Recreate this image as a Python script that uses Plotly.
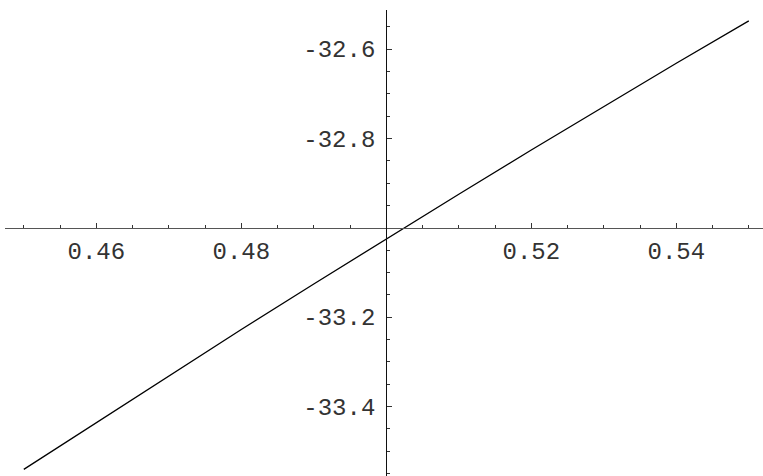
import plotly.graph_objects as go

# Sampled curve
x_vals = [0.45, 0.46, 0.47, 0.48, 0.49, 0.50, 0.51, 0.52, 0.53, 0.54, 0.55]
y_vals = [-33.541, -33.436, -33.331, -33.228, -33.126, -33.025,
          -32.925, -32.826, -32.729, -32.632, -32.537]

# Tick marks and labels
x_major = [0.46, 0.48, 0.52, 0.54]
x_major_text = ["0.46", "0.48", "0.52", "0.54"]
x_minor = [0.45, 0.455, 0.465, 0.47, 0.475, 0.485, 0.49, 0.495,
           0.505, 0.51, 0.515, 0.525, 0.53, 0.535, 0.545, 0.55]
y_major = [-32.6, -32.8, -33.2, -33.4]
y_major_text = ["-32.6", "-32.8", "-33.2", "-33.4"]
y_minor = [-32.55, -32.65, -32.7, -32.75, -32.85, -32.9, -32.95,
           -33.05, -33.1, -33.15, -33.25, -33.3, -33.35, -33.45, -33.5, -33.55]

# Axes origin
x_origin = 0.5
y_origin = -33.0

W, H = 763, 476
x_range = [0.44741, 0.55196]
y_range = [-33.5559, -32.51265]
x_dom = [5 / W, 1.0]
y_dom = [0.0, 466 / H]

# paper positions of the crossing axes
x_axis_pos = y_dom[0] + (y_origin - y_range[0]) / (y_range[1] - y_range[0]) * (y_dom[1] - y_dom[0])
y_axis_pos = x_dom[0] + (x_origin - x_range[0]) / (x_range[1] - x_range[0]) * (x_dom[1] - x_dom[0])

font = dict(family="Liberation Mono, Courier New, monospace", size=24, color="#333333")

fig = go.Figure()
fig.add_trace(go.Scatter(x=x_vals, y=y_vals, mode="lines",
                         line=dict(color="black", width=1.3),
                         hoverinfo="skip", showlegend=False))

fig.update_layout(
    width=W, height=H,
    margin=dict(l=0, r=0, t=0, b=0),
    paper_bgcolor="white", plot_bgcolor="white",
    xaxis=dict(
        range=x_range, domain=x_dom, anchor="free", position=x_axis_pos,
        showgrid=False, zeroline=False,
        showline=True, linecolor="#555555", linewidth=1.3,
        tickmode="array", tickvals=x_major, ticktext=x_major_text,
        ticks="inside", ticklen=5, tickwidth=1, tickcolor="#333333",
        minor=dict(tickmode="array", tickvals=x_minor, ticks="inside",
                   ticklen=3, tickwidth=1, tickcolor="#333333"),
        tickfont=font, ticklabelstandoff=1,
    ),
    yaxis=dict(
        range=y_range, domain=y_dom, anchor="free", position=y_axis_pos,
        showgrid=False, zeroline=False,
        showline=True, linecolor="#111111", linewidth=1.3,
        tickmode="array", tickvals=y_major, ticktext=y_major_text,
        ticks="inside", ticklen=5, tickwidth=1, tickcolor="#333333",
        minor=dict(tickmode="array", tickvals=y_minor, ticks="inside",
                   ticklen=3, tickwidth=1, tickcolor="#333333"),
        tickfont=font, ticklabelstandoff=6,
    ),
)

fig.write_html("out.html")
